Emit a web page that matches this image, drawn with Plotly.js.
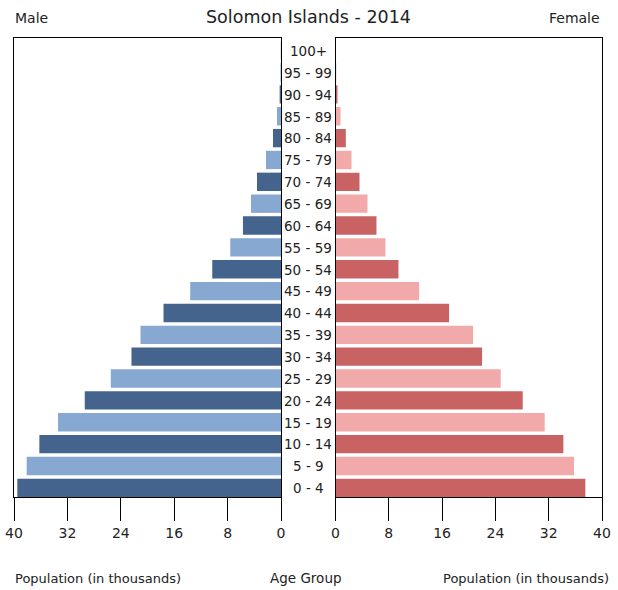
<!DOCTYPE html>
<html>
<head>
<meta charset="utf-8">
<script src="https://cdn.plot.ly/plotly-3.0.1.min.js"></script>
<style>
html,body{margin:0;padding:0;background:#fff;}
#chart{width:618px;height:590px;}
</style>
</head>
<body>
<div id="chart"></div>
<script>
const ageGroups = ["0 - 4","5 - 9","10 - 14","15 - 19","20 - 24","25 - 29","30 - 34","35 - 39","40 - 44","45 - 49","50 - 54","55 - 59","60 - 64","65 - 69","70 - 74","75 - 79","80 - 84","85 - 89","90 - 94","95 - 99","100+"];
const male   = [39.5, 38.1, 36.2, 33.4, 29.4, 25.5, 22.4, 21.05, 17.6, 13.6, 10.3, 7.6, 5.7, 4.5, 3.6, 2.25, 1.2, 0.6, 0.2, 0.08, 0.02];
const female = [37.5, 35.8, 34.2, 31.4, 28.1, 24.8, 22.0, 20.65, 17.05, 12.55, 9.45, 7.5, 6.15, 4.8, 3.6, 2.4, 1.55, 0.75, 0.3, 0.12, 0.05];
const tickVals = [0, 8, 16, 24, 32, 40];

const FONT = "DejaVu Sans, sans-serif";
const maleColors = ageGroups.map((_, i) => i % 2 === 0 ? "#44638d" : "#87a8d0");
const femaleColors = ageGroups.map((_, i) => i % 2 === 0 ? "#c96363" : "#f2a9aa");

const W = 618;
const barW = 0.84;
const traces = [
  {type: "bar", orientation: "h", y: ageGroups, x: male, xaxis: "x", yaxis: "y",
   width: barW, offset: -0.5,
   marker: {color: maleColors, line: {width: 0}}, hoverinfo: "x+y", showlegend: false},
  {type: "bar", orientation: "h", y: ageGroups, x: female, xaxis: "x2", yaxis: "y2",
   width: barW, offset: -0.5,
   marker: {color: femaleColors, line: {width: 0}}, hoverinfo: "x+y", showlegend: false}
];

const axisCommon = {
  showgrid: false, zeroline: false, showline: true, mirror: true,
  linecolor: "#000", linewidth: 1, ticks: "outside", ticklen: 23, tickcolor: "#000",
  tickvals: tickVals, ticktext: tickVals.map(String),
  tickfont: {family: FONT, size: 14, color: "#222"}, fixedrange: true
};

const annotations = ageGroups.map(a => ({
  xref: "paper", yref: "y", x: 308 / W, y: a, yshift: -2, text: a, showarrow: false,
  xanchor: "center", yanchor: "middle", font: {family: FONT, size: 13.5, color: "#222"}
}));
annotations.push(
  {xref: "paper", yref: "paper", x: 308 / W, y: 1, yshift: 21, text: "Solomon Islands - 2014", showarrow: false,
   xanchor: "center", yanchor: "middle", font: {family: FONT, size: 17.5, color: "#222"}},
  {xref: "paper", yref: "paper", x: 13 / W, y: 1, yshift: 20, text: "Male", showarrow: false,
   xanchor: "left", yanchor: "middle", font: {family: FONT, size: 14, color: "#222"}},
  {xref: "paper", yref: "paper", x: 602 / W, y: 1, yshift: 20, text: "Female", showarrow: false,
   xanchor: "right", yanchor: "middle", font: {family: FONT, size: 14, color: "#222"}},
  {xref: "paper", yref: "paper", x: 13 / W, y: 0, yshift: -81, text: "Population (in thousands)", showarrow: false,
   xanchor: "left", yanchor: "middle", font: {family: FONT, size: 13, color: "#222"}},
  {xref: "paper", yref: "paper", x: 306 / W, y: 0, yshift: -81, text: "Age Group", showarrow: false,
   xanchor: "center", yanchor: "middle", font: {family: FONT, size: 13.5, color: "#222"}},
  {xref: "paper", yref: "paper", x: 611 / W, y: 0, yshift: -81, text: "Population (in thousands)", showarrow: false,
   xanchor: "right", yanchor: "middle", font: {family: FONT, size: 13, color: "#222"}}
);

const layout = {
  width: 618, height: 590,
  margin: {l: 0, r: 0, t: 38, b: 93, pad: 0},
  paper_bgcolor: "#fff", plot_bgcolor: "#fff",
  font: {family: FONT, size: 14, color: "#222"},
  xaxis: Object.assign({}, axisCommon, {domain: [14 / W, 281 / W], range: [40, 0], anchor: "y"}),
  xaxis2: Object.assign({}, axisCommon, {domain: [335.5 / W, 602 / W], range: [0, 40], anchor: "y2"}),
  yaxis: {domain: [0, 1], type: "category", categoryorder: "array", categoryarray: ageGroups,
          range: [-0.5, 20.5], showticklabels: false, ticks: "", showgrid: false, zeroline: false,
          showline: true, mirror: true, linecolor: "#000", linewidth: 1, anchor: "x", fixedrange: true},
  yaxis2: {domain: [0, 1], type: "category", categoryorder: "array", categoryarray: ageGroups,
          range: [-0.5, 20.5], showticklabels: false, ticks: "", showgrid: false, zeroline: false,
          showline: true, mirror: true, linecolor: "#000", linewidth: 1, anchor: "x2", matches: "y", fixedrange: true},
  annotations: annotations
};

Plotly.newPlot("chart", traces, layout, {displayModeBar: false, staticPlot: true});
</script>
</body>
</html>
